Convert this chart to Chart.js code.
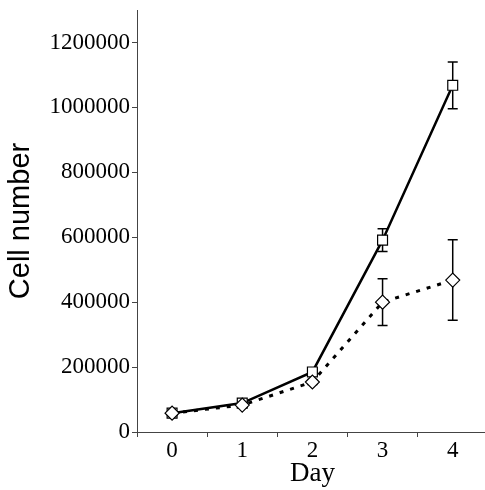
<!DOCTYPE html>
<html>
<head>
<meta charset="utf-8">
<script src="https://cdn.jsdelivr.net/npm/chart.js@4"></script>
<style>
  html, body { margin: 0; padding: 0; background: #fff; overflow: hidden; }
</style>
</head>
<body>
<canvas id="myChart" width="496" height="490"></canvas>
<script>
var days = ["0", "1", "2", "3", "4"];
var squareValues = [58000, 89000, 185000, 591000, 1068000];
var squareErrors = [6000, 6000, 8000, 35000, 72000];
var diamondValues = [58000, 83000, 154000, 400000, 468000];
var diamondErrors = [6000, 6000, 8000, 72000, 124000];
var yTicksMax = 1200000;
var yAxisMax = 1300000;

var errorBars = {
    id: 'errorBars',
    beforeDatasetsDraw: function (chart) {
        var ctx = chart.ctx;
        var y = chart.scales.y;
        var sets = [[squareValues, squareErrors, 1], [diamondValues, diamondErrors, 0]];
        ctx.save();
        ctx.strokeStyle = '#000';
        ctx.lineWidth = 1.5;
        sets.forEach(function (s) {
            var meta = chart.getDatasetMeta(s[2]);
            s[0].forEach(function (v, i) {
                var x = meta.data[i].x;
                var top = y.getPixelForValue(v + s[1][i]);
                var bot = y.getPixelForValue(v - s[1][i]);
                ctx.beginPath();
                ctx.moveTo(x, top); ctx.lineTo(x, bot);
                ctx.moveTo(x - 5, top); ctx.lineTo(x + 5, top);
                ctx.moveTo(x - 5, bot); ctx.lineTo(x + 5, bot);
                ctx.stroke();
            });
        });
        ctx.restore();
    }
};

var ctx = document.getElementById("myChart").getContext('2d');

var myChart = new Chart(ctx, {
    type: 'line',
    data: {
        labels: days,
        datasets: [{
            label: 'diamond',
            data: diamondValues,
            borderColor: '#000',
            borderWidth: 3,
            borderDash: [4, 7],
            pointStyle: 'rectRot',
            pointRadius: 7,
            pointBackgroundColor: '#fff',
            pointBorderColor: '#000',
            pointBorderWidth: 1.2,
            tension: 0
        }, {
            label: 'square',
            data: squareValues,
            borderColor: '#000',
            borderWidth: 2.5,
            pointStyle: 'rect',
            pointRadius: 7,
            pointBackgroundColor: '#fff',
            pointBorderColor: '#000',
            pointBorderWidth: 1.2,
            tension: 0
        }]
    },
    options: {
        responsive: false,
        animation: false,
        layout: { padding: { top: 10, left: 0, right: 0, bottom: 0 } },
        plugins: { legend: { display: false }, tooltip: { enabled: false } },
        scales: {
            x: {
                type: 'category',
                offset: true,
                grid: { offset: true, drawOnChartArea: false, drawTicks: true, tickLength: 5, color: '#444' },
                border: { display: true, color: '#444', width: 1 },
                ticks: { color: '#000', padding: 0, maxRotation: 0, font: { family: 'Liberation Serif', size: 23 } },
                title: { display: true, text: 'Day', color: '#000', padding: 0, font: { family: 'Liberation Serif', size: 27 } },
                afterFit: function (scale) {
                    scale.height = 58;
                }
            },
            y: {
                bounds: 'data',
                afterDataLimits: function (scale) {
                    scale.min = 0;
                    scale.max = yAxisMax;
                },
                ticks: {
                    stepSize: 200000,
                    color: '#000',
                    padding: 2,
                    font: { family: 'Liberation Serif', size: 23 },
                    callback: function (v) { return String(v); }
                },
                afterBuildTicks: function (scale) {
                    scale.ticks = scale.ticks.filter(function (t) { return t.value <= yTicksMax; });
                },
                grid: { drawOnChartArea: false, drawTicks: true, tickLength: 5, color: '#444' },
                border: { display: true, color: '#444', width: 1 },
                title: { display: true, text: 'Cell number', color: '#000', padding: { top: 4, bottom: 0 }, font: { family: 'Liberation Sans', size: 29 } },
                afterFit: function (scale) {
                    scale.width = 137;
                    scale.paddingTop = 0;
                    scale.paddingBottom = 0;
                }
            }
        }
    },
    plugins: [errorBars]
});
</script>
</body>
</html>
